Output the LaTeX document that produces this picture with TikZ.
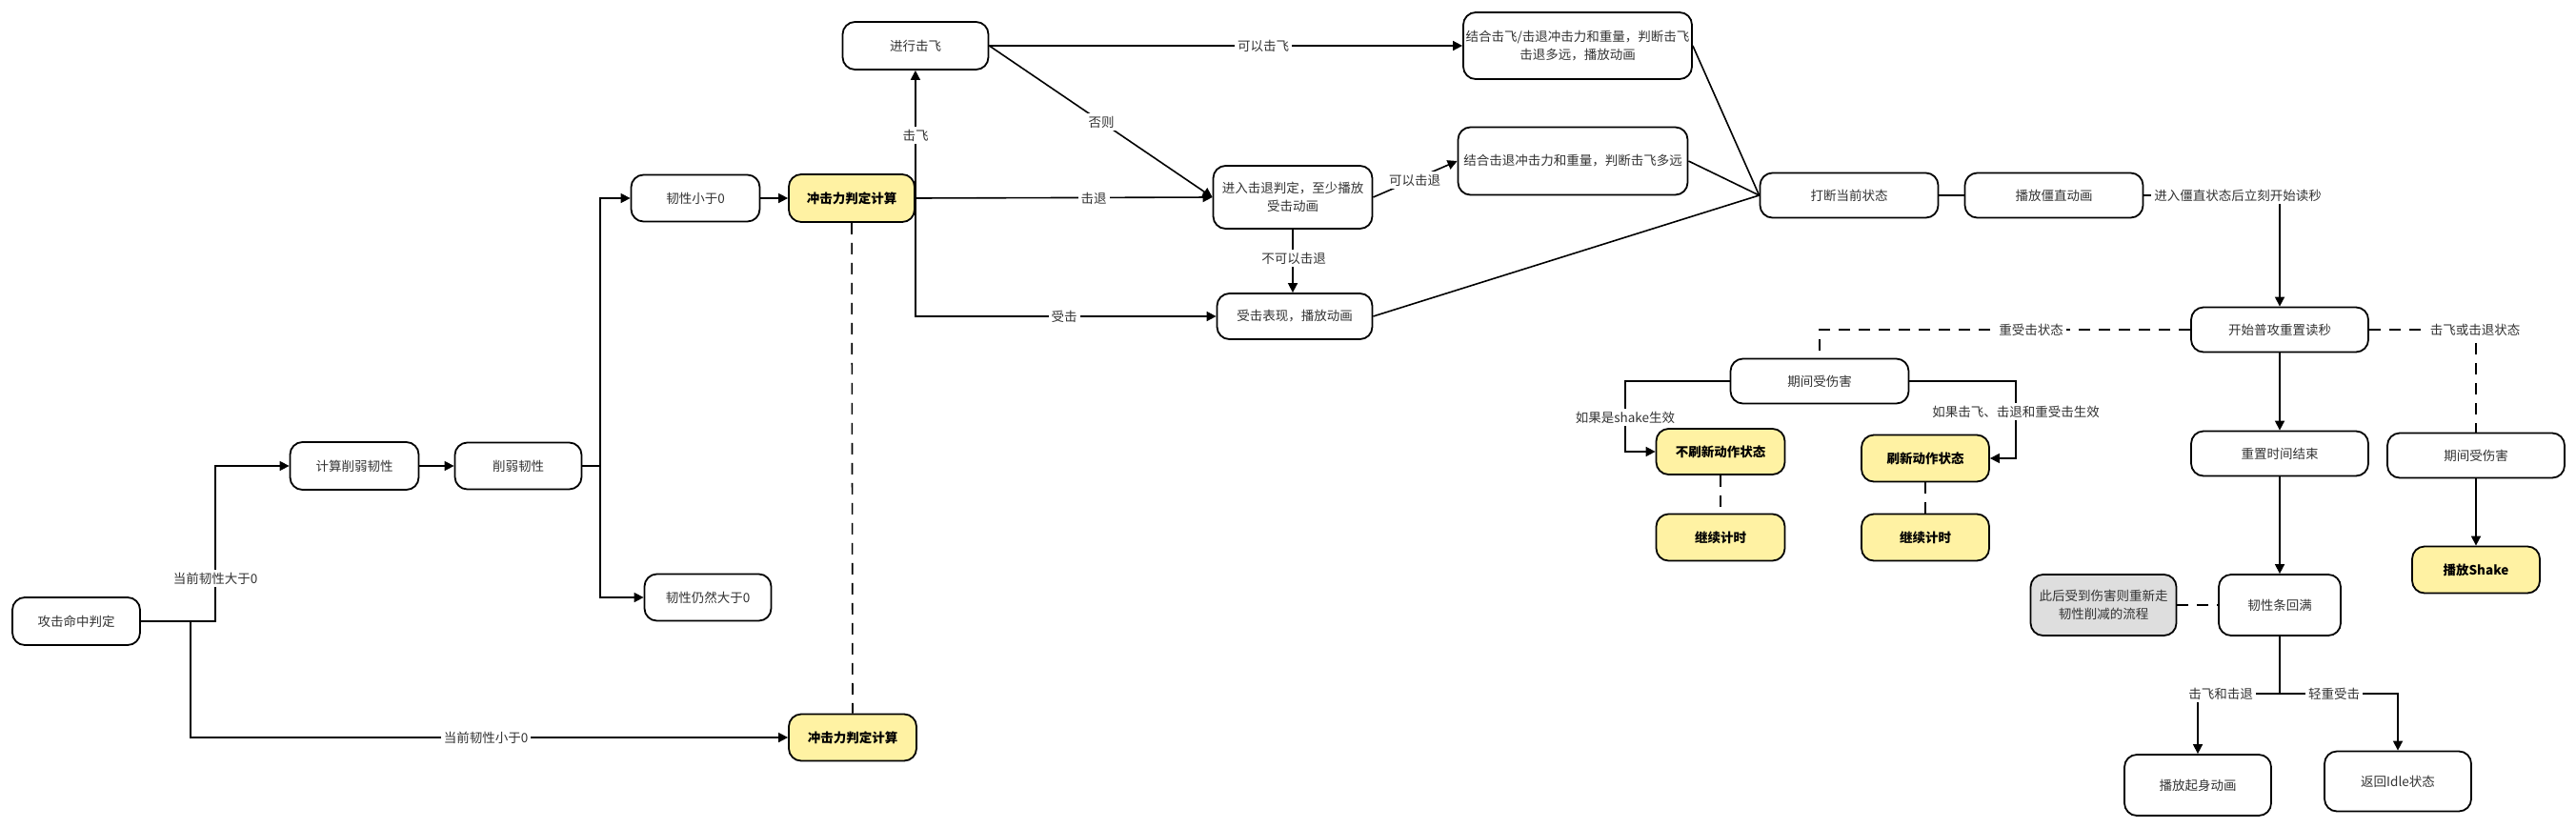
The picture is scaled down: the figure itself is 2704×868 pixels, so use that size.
\documentclass[tikz,border=0pt]{standalone}
\usepackage{fontspec}
\setmainfont{Noto Sans CJK SC}
\usetikzlibrary{arrows.meta}
\definecolor{ylw}{RGB}{255,242,163}
\definecolor{gry}{RGB}{222,222,222}
\definecolor{txt}{RGB}{51,51,51}
\begin{document}
\begin{tikzpicture}[x=1pt,y=-1pt,
 box/.style={draw=black, line width=1.8pt, rounded corners=13pt, fill=white, align=center, inner sep=0pt, text=txt, font=\fontsize{13.5pt}{19pt}\selectfont},
 ybox/.style={box, fill=ylw, text=black, font=\fontsize{13.5pt}{19pt}\selectfont\bfseries},
 gbox/.style={box, fill=gry},
 sz/.style 2 args={minimum width=#1pt, minimum height=#2pt},
 conn/.style={line width=1.6pt, draw=black},
 arr/.style={conn, -{Triangle[length=10pt,width=10pt]}},
 dsh/.style={conn, dash pattern=on 12pt off 9pt},
 lbl/.style={fill=white, inner sep=3pt, text=txt, font=\fontsize{13.5pt}{17pt}\selectfont},
]
\useasboundingbox (0,0) rectangle (2704,868);
\fill[white] (0,0) rectangle (2704,868);

% nodes
\node[box, sz={134}{50}] (hit) at (80,652) {攻击命中判定};
\node[box, sz={135}{50}] (calc) at (372,489) {计算削弱韧性};
\node[box, sz={133}{49}] (weak) at (544,489) {削弱韧性};
\node[box, sz={135}{49}] (lt0) at (730,208) {韧性小于0};
\node[ybox, sz={132}{50}] (imp1) at (894,208) {冲击力判定计算};
\node[box, sz={133}{49}] (gt0) at (743,627) {韧性仍然大于0};
\node[ybox, sz={134}{49}] (imp2) at (895,774) {冲击力判定计算};
\node[box, sz={153}{50}] (fly) at (961,48) {进行击飞};
\node[box, sz={167}{66}] (kb) at (1357,207) {进入击退判定，至少播放\\受击动画};
\node[box, sz={163}{48}] (hs) at (1359,332) {受击表现，播放动画};
\node[box, sz={240}{70}] (c1) at (1656,48) {结合击飞/击退冲击力和重量，判断击飞\\击退多远，播放动画};
\node[box, sz={241}{71}] (c2) at (1651,169) {结合击退冲击力和重量，判断击飞多远};
\node[box, sz={187}{47}] (intr) at (1941,205) {打断当前状态};
\node[box, sz={187}{47}] (stiff) at (2156,205) {播放僵直动画};
\node[box, sz={186}{47}] (reset) at (2393,346) {开始普攻重置读秒};
\node[box, sz={187}{47}] (dmgL) at (1910,400) {期间受伤害};
\node[ybox, sz={135}{48}] (norf) at (1806,474) {不刷新动作状态};
\node[ybox, sz={134}{49}] (rf) at (2021,481) {刷新动作状态};
\node[ybox, sz={135}{49}] (contL) at (1806,564) {继续计时};
\node[ybox, sz={134}{49}] (contR) at (2021,564) {继续计时};
\node[box, sz={186}{47}] (rend) at (2393,476) {重置时间结束};
\node[box, sz={186}{47}] (dmgR) at (2599,478) {期间受伤害};
\node[ybox, sz={134}{49}] (shake) at (2599,598) {播放Shake};
\node[box, sz={128}{64}] (full) at (2393,635) {韧性条回满};
\node[gbox, sz={153}{64}] (gray) at (2208,635) {此后受到伤害则重新走\\韧性削减的流程};
\node[box, sz={154}{64}] (rise) at (2307,824) {播放起身动画};
\node[box, sz={154}{63}] (idle) at (2517,820) {返回Idle状态};

% connectors
\draw[arr] (hit.east) -- (226,652) |- (calc.west);
\draw[arr] (hit.east) -- (200,652) |- (imp2.west);
\draw[arr] (calc.east) -- (weak.west);
\draw[arr] (weak.east) -- (630,489) |- (lt0.west);
\draw[arr] (weak.east) -- (630,489) |- (gt0.west);
\draw[arr] (lt0.east) -- (imp1.west);
\draw[dsh] (imp1.south) -- (imp2.north);
\draw[arr] (imp1.east) -- (imp1.east |- fly.south);
\draw[arr] (imp1.east) |- (hs.west);
\draw[arr] (imp1.east) -- (kb.west);
\draw[arr] (fly.east) -- (fly.east -| c1.west);
\draw[arr] (fly.east) -- (kb.west);
\draw[arr] (kb.east) -- (c2.west);
\draw[arr] (kb.south) -- (kb.south |- hs.north);
\draw[conn] (c1.east) -- (intr.west);
\draw[conn] (c2.east) -- (intr.west);
\draw[conn] (hs.east) -- (intr.west);
\draw[conn] (intr.east) -- (stiff.west);
\draw[arr] (stiff.east) -- (2393,205) -- (reset.north);
\draw[dsh] (reset.west) -| (dmgL.north);
\draw[dsh] (reset.east) -| (dmgR.north);
\draw[arr] (reset.south) -- (rend.north);
\draw[arr] (rend.south) -- (full.north);
\draw[arr] (dmgR.south) -- (shake.north);
\draw[dsh] (gray.east) -- (full.west);
\draw[arr] (full.south) -- (2393,728) -| (rise.north);
\draw[arr] (full.south) -- (2393,728) -| (idle.north);
\draw[arr] (dmgL.west) -- (1706,400) |- (norf.west);
\draw[arr] (dmgL.east) -- (2116,400) |- (rf.east);
\draw[dsh] (norf.south) -- (contL.north);
\draw[dsh] (rf.south) -- (contR.north);

% labels
\node[lbl] (l1) at (226,607) {当前韧性大于0};
\node[lbl] (l2) at (510,774) {当前韧性小于0};
\node[lbl] (l3) at (961,142) {击飞};
\node[lbl] (l4) at (1117,332) {受击};
\node[lbl] (l5) at (1148,208) {击退};
\node[lbl] (l6) at (1326,48) {可以击飞};
\node[lbl] (l7) at (1156,128) {否则};
\node[lbl] (l8) at (1485,189) {可以击退};
\node[lbl] (l9) at (1358,271) {不可以击退};
\node[lbl] (l10) at (2349,205) {进入僵直状态后立刻开始读秒};
\node[lbl] (l11) at (2132,346) {重受击状态};
\node[lbl] (l12) at (2598,346) {击飞或击退状态};
\node[lbl] (l13) at (2331,728) {击飞和击退};
\node[lbl] (l14) at (2450,728) {轻重受击};
\node[lbl] (l15) at (1706,438) {如果是shake生效};
\node[lbl] (l16) at (2116,432) {如果击飞、击退和重受击生效};
\end{tikzpicture}
\end{document}
